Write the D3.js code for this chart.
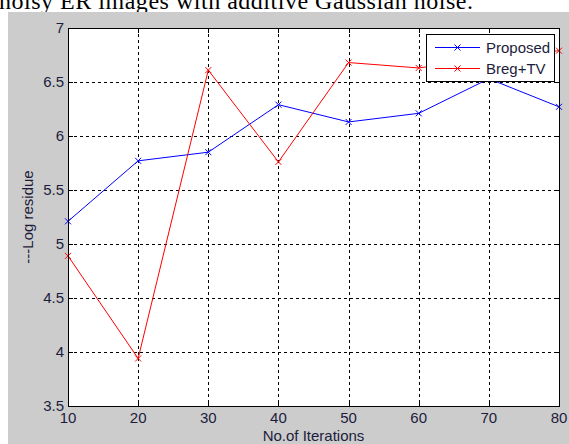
<!DOCTYPE html>
<html>
<head>
<meta charset="utf-8">
<script src="https://cdn.jsdelivr.net/npm/d3@7"></script>
<style>
  body { margin: 0; background: #fff; }
  svg text { font-family: "Liberation Sans", Arial, sans-serif; }
</style>
</head>
<body>
<div id="chart"></div>
<script>
// data
var iterations = [10, 20, 30, 40, 50, 60, 70, 80];
var proposed = [5.21, 5.77, 5.85, 6.29, 6.13, 6.21, 6.53, 6.27];
var bregTV = [4.89, 3.94, 6.61, 5.76, 6.68, 6.63, 6.72, 6.79];
var xTicks = [10, 20, 30, 40, 50, 60, 70, 80];
var yTicks = [3.5, 4, 4.5, 5, 5.5, 6, 6.5, 7];

var W = 569, H = 444;
var margin = {top: 28, right: 10, bottom: 38, left: 68},
    width = 559 - margin.left,
    height = 406 - margin.top;

var svg = d3.select("#chart").append("svg")
    .attr("width", W).attr("height", H);

// caption line from the page above, cut off
svg.append("text")
    .attr("x", -1).attr("y", 9)
    .attr("textLength", 474)
    .style("font-family", "'Liberation Serif', 'Times New Roman', serif")
    .style("font-size", "24px")
    .attr("fill", "#000")
    .text("noisy ER images with additive Gaussian noise.");

// figure background
svg.append("rect")
    .attr("x", 8).attr("y", 12)
    .attr("width", W - 8).attr("height", H - 12)
    .attr("fill", "#cccccc");

var g = svg.append("g")
    .attr("transform", "translate(" + margin.left + "," + margin.top + ")");

var x = d3.scaleLinear().domain([10, 80]).range([0, width]);
var y = d3.scaleLinear().domain([3.5, 7]).range([height, 0]);

g.append("rect")
    .attr("width", width).attr("height", height)
    .attr("fill", "#fff");

// grid
g.selectAll(".gx").data(xTicks.slice(1, -1)).enter().append("line")
    .attr("x1", d => Math.round(x(d)) + 0.5).attr("x2", d => Math.round(x(d)) + 0.5)
    .attr("y1", 0).attr("y2", height)
    .attr("stroke", "#000").attr("stroke-dasharray", "3,3");
g.selectAll(".gy").data(yTicks.slice(1, -1)).enter().append("line")
    .attr("y1", d => Math.round(y(d)) + 0.5).attr("y2", d => Math.round(y(d)) + 0.5)
    .attr("x1", 0).attr("x2", width)
    .attr("stroke", "#000").attr("stroke-dasharray", "3,3");

// ticks inward on all sides
var tl = 5;
xTicks.forEach(function(d) {
  var px = Math.round(x(d)) + 0.5;
  g.append("line").attr("x1", px).attr("x2", px).attr("y1", height).attr("y2", height - tl).attr("stroke", "#000");
  g.append("line").attr("x1", px).attr("x2", px).attr("y1", 0).attr("y2", tl).attr("stroke", "#000");
});
yTicks.forEach(function(d) {
  var py = Math.round(y(d)) + 0.5;
  g.append("line").attr("x1", 0).attr("x2", tl).attr("y1", py).attr("y2", py).attr("stroke", "#000");
  g.append("line").attr("x1", width).attr("x2", width - tl).attr("y1", py).attr("y2", py).attr("stroke", "#000");
});

// tick labels
g.selectAll(".xl").data(xTicks).enter().append("text")
    .attr("x", d => x(d)).attr("y", height + 17)
    .attr("text-anchor", "middle")
    .style("font-size", "15px").attr("fill", "#1c1c3c")
    .text(d => d);
g.selectAll(".yl").data(yTicks).enter().append("text")
    .attr("x", -4).attr("y", d => y(d)).attr("dy", "0.36em")
    .attr("text-anchor", "end")
    .style("font-size", "15px").attr("fill", "#1c1c3c")
    .text(d => d);

// series
var series = [
  {name: "Proposed", values: proposed, color: "#0000ff"},
  {name: "Breg+TV", values: bregTV, color: "#ff0000"}
];
var line = d3.line().x((d, i) => x(iterations[i])).y(d => y(d));

series.forEach(function(s) {
  g.append("path").datum(s.values)
      .attr("d", line)
      .attr("fill", "none").attr("stroke", s.color).attr("stroke-width", 1);
  g.selectAll(null).data(s.values).enter().append("path")
      .attr("d", function(d, i) {
        var cx = x(iterations[i]), cy = y(d), r = 3;
        return "M" + (cx - r) + "," + (cy - r) + "L" + (cx + r) + "," + (cy + r) +
               "M" + (cx - r) + "," + (cy + r) + "L" + (cx + r) + "," + (cy - r);
      })
      .attr("stroke", s.color).attr("stroke-width", 1);
});

// axes box
g.append("rect")
    .attr("x", 0.5).attr("y", 0.5)
    .attr("width", width).attr("height", height)
    .attr("fill", "none").attr("stroke", "#000");

// legend
var lg = svg.append("g").attr("transform", "translate(426,34)");
lg.append("rect").attr("x", 0.5).attr("y", 0.5).attr("width", 128).attr("height", 47)
    .attr("fill", "#fff").attr("stroke", "#000");
series.forEach(function(s, i) {
  var ly = 13.5 + i * 21;
  lg.append("line").attr("x1", 9).attr("x2", 54).attr("y1", ly).attr("y2", ly)
      .attr("stroke", s.color);
  lg.append("path")
      .attr("d", "M28.5," + (ly - 3) + "L34.5," + (ly + 3) + "M28.5," + (ly + 3) + "L34.5," + (ly - 3))
      .attr("stroke", s.color);
  lg.append("text").attr("x", 60).attr("y", ly).attr("dy", "0.36em")
      .style("font-size", "15px").attr("fill", "#1c1c3c")
      .text(s.name);
});

// axis titles
svg.append("text")
    .attr("x", margin.left + width / 2).attr("y", 441)
    .attr("text-anchor", "middle")
    .style("font-size", "15px").attr("fill", "#1c1c3c")
    .text("No.of Iterations");
svg.append("text")
    .attr("transform", "translate(33," + (margin.top + height / 2) + ") rotate(-90)")
    .attr("text-anchor", "middle")
    .style("font-size", "15px").attr("fill", "#1c1c3c")
    .text("---Log residue");
</script>
</body>
</html>
